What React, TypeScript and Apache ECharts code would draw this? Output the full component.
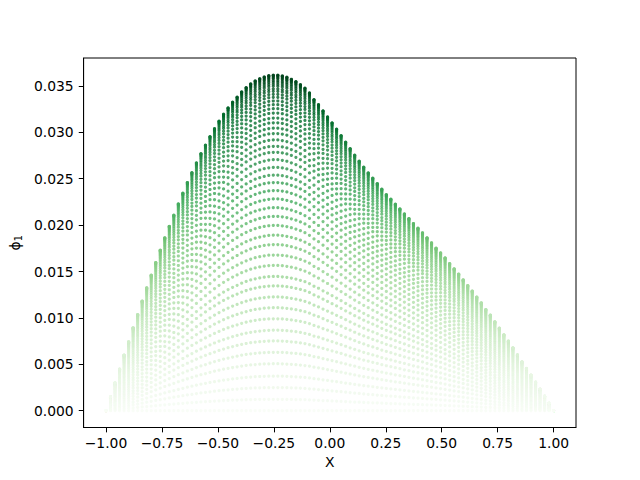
import React, { useEffect, useRef } from "react";
import * as echarts from "echarts";

// NOTE: the ~5000 dots were not read one by one. Two profiles were read off the picture:
// the top dot of each column, and each curve's level at the peak column. A dot's value is
// columnTops[i] * curveLevels[j], which assumes every curve shares the top curve's shape.
const columnTops = [
  0.0, 0.0015, 0.00301, 0.00448, 0.00599, 0.00742, 0.00893, 0.01036, 0.01181, 0.01324,
  0.01461, 0.01597, 0.0173, 0.01863, 0.01987, 0.02107, 0.02229, 0.02344, 0.02459, 0.02566,
  0.02671, 0.02771, 0.02861, 0.02954, 0.0304, 0.0312, 0.03195, 0.03263, 0.03325, 0.03379,
  0.03436, 0.03482, 0.03522, 0.03554, 0.03578, 0.03597, 0.03611, 0.03616, 0.03616, 0.03608,
  0.03594, 0.03572, 0.03547, 0.03514, 0.03476, 0.03425, 0.03353, 0.03299, 0.03231, 0.03166,
  0.03102, 0.03034, 0.02965, 0.02894, 0.02825, 0.02754, 0.02689, 0.02624, 0.02563, 0.02506,
  0.02448, 0.02387, 0.02329, 0.0228, 0.02226, 0.02175, 0.02121, 0.02071, 0.02017, 0.01967,
  0.01917, 0.01863, 0.01809, 0.01752, 0.01701, 0.01647, 0.01586, 0.01529, 0.01472, 0.0141,
  0.01349, 0.01289, 0.01224, 0.01162, 0.0109, 0.0103, 0.00958, 0.0089, 0.00818, 0.0075,
  0.00678, 0.00602, 0.00527, 0.00455, 0.00384, 0.00308, 0.00233, 0.00157, 0.00082, 0.0,
];

const curveLevels = [
  0, 0.034, 0.069, 0.103, 0.14, 0.174, 0.208, 0.24, 0.274, 0.307, 0.339, 0.372, 0.4, 0.433,
  0.464, 0.495, 0.523, 0.552, 0.579, 0.605, 0.631, 0.656, 0.68, 0.702, 0.725, 0.748, 0.77,
  0.788, 0.807, 0.826, 0.842, 0.858, 0.872, 0.887, 0.9, 0.912, 0.923, 0.934, 0.943, 0.952,
  0.959, 0.967, 0.973, 0.979, 0.984, 0.989, 0.992, 0.995, 0.998, 0.999, 1,
];

const xStart = -1;
const xStep = 2 / 99;

const xTickValues = [-1, -0.75, -0.5, -0.25, 0, 0.25, 0.5, 0.75, 1];
const xTickLabels = ["−1.00", "−0.75", "−0.50", "−0.25", "0.00", "0.25", "0.50", "0.75", "1.00"];
const yTickValues = [0, 0.005, 0.01, 0.015, 0.02, 0.025, 0.03, 0.035];
const yTickLabels = ["0.000", "0.005", "0.010", "0.015", "0.020", "0.025", "0.030", "0.035"];

const greens = ["#f7fcf5", "#e5f5e0", "#c7e9c0", "#a1d99b", "#74c476", "#41ab5d", "#238b45", "#006d2c", "#00441b"];

const font = "DejaVu Sans";
const fontSize = 13.89;

export default function App() {
  const ref = useRef<HTMLDivElement>(null);
  useEffect(() => {
    if (!ref.current) return;
    const chart = echarts.init(ref.current, undefined, { renderer: "svg" });
    const points: number[][] = [];
    curveLevels.forEach((level) => {
      columnTops.forEach((top, i) => {
        points.push([xStart + i * xStep, top * level]);
      });
    });
    const axisCommon = {
      type: "value" as const,
      nameLocation: "middle" as const,
      splitLine: { show: false },
      axisLine: { show: true, onZero: false, lineStyle: { color: "#000", width: 1 } },
    };
    chart.setOption({
      animation: false,
      backgroundColor: "#fff",
      grid: {
        left: 80.5,
        top: 58,
        width: 495.5,
        height: 369.5,
        show: true,
        borderColor: "#000",
        borderWidth: 1,
        backgroundColor: "transparent",
      },
      xAxis: {
        ...axisCommon,
        min: -1.1,
        max: 1.1,
        name: "X",
        nameGap: 27,
        nameTextStyle: { fontFamily: font, fontSize, color: "#000" },
        axisTick: { show: true, length: 4.86, lineStyle: { color: "#000", width: 1 }, customValues: xTickValues },
        axisLabel: {
          margin: 8,
          fontFamily: font,
          fontSize,
          color: "#000",
          customValues: xTickValues,
          formatter: (v: number) => xTickLabels[xTickValues.indexOf(v)] ?? "",
        },
      },
      yAxis: {
        ...axisCommon,
        min: -0.00181,
        max: 0.03801,
        name: "{a|ϕ}{s|1}",
        nameGap: 58,
        nameTextStyle: {
          fontFamily: font,
          fontSize,
          color: "#000",
          rich: {
            a: { fontFamily: font, fontSize, color: "#000" },
            s: { fontFamily: font, fontSize: 9.7, color: "#000", padding: [6, 0, 0, 0] },
          },
        },
        axisTick: { show: true, length: 4.86, lineStyle: { color: "#000", width: 1 }, customValues: yTickValues },
        axisLabel: {
          margin: 10,
          fontFamily: font,
          fontSize,
          color: "#000",
          customValues: yTickValues,
          formatter: (v: number) => yTickLabels[yTickValues.indexOf(v)] ?? "",
        },
      },
      visualMap: {
        show: false,
        type: "continuous",
        dimension: 1,
        min: 0,
        max: 0.03616,
        inRange: { color: greens },
      },
      series: [
        {
          type: "scatter",
          data: points,
          symbol: "circle",
          symbolSize: 3.2,
          progressive: 0,
          large: false,
          silent: true,
        },
      ],
    });
    return () => chart.dispose();
  }, []);
  return <div ref={ref} style={{ position: "absolute", left: 0, top: 0, width: 640, height: 480 }} />;
}
